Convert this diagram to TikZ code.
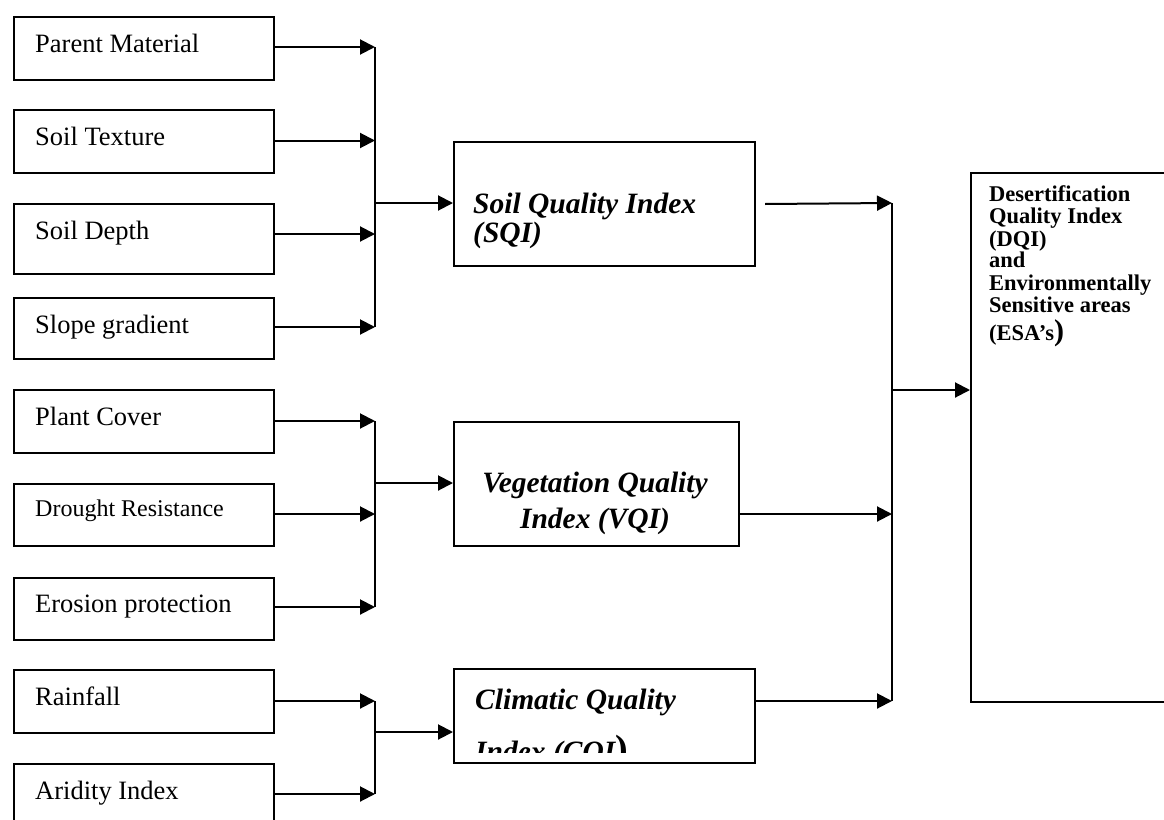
\documentclass[tikz,border=0pt]{standalone}
\usepackage{fontspec}
\setmainfont{Liberation Serif}
\usetikzlibrary{arrows.meta}
\begin{document}
\begin{tikzpicture}[x=1pt,y=-1pt,
  box/.style={draw, line width=2pt, inner sep=0pt, anchor=north west},
  lbox/.style={box, minimum width=260pt, minimum height=#1},
  ltxt/.style={anchor=base west, inner sep=0pt, font=\fontsize{26.5}{30}\selectfont},
  itxt/.style={anchor=base west, inner sep=0pt, font=\fontsize{29.5}{30}\selectfont\bfseries\itshape},
  dtxt/.style={anchor=base west, inner sep=0pt, font=\fontsize{22.5}{22}\selectfont\bfseries},
  arr/.style={-{Triangle[length=15pt,width=15pt]}, line width=2pt},
  bus/.style={line width=2pt}]
\useasboundingbox (0,0) rectangle (1164,819);
\clip (0,0) rectangle (1164,819);
\fill[white] (0,0) rectangle (1164,819);

% left input boxes
\node[lbox=63pt] (pm) at (13,16) {};
\node[lbox=63pt] (st) at (13,109) {};
\node[lbox=70pt] (sd) at (13,203) {};
\node[lbox=61pt] (sg) at (13,297) {};
\node[lbox=63pt] (pc) at (13,389) {};
\node[lbox=62pt] (dr) at (13,483) {};
\node[lbox=62pt] (ep) at (13,577) {};
\node[lbox=63pt] (rf) at (13,669) {};
\node[lbox=90pt] (ai) at (13,763) {};

\node[ltxt] (pmt) at (35,52) {Parent Material};
\node[ltxt] (stt) at (35,145) {Soil Texture};
\node[ltxt] (sdt) at (35,239) {Soil Depth};
\node[ltxt] (sgt) at (35,333) {Slope gradient};
\node[ltxt] (pct) at (35,425) {Plant Cover};
\node[ltxt, font=\fontsize{24}{28}\selectfont] (drt) at (35,516) {Drought Resistance};
\node[ltxt] (ept) at (35,612) {Erosion protection};
\node[ltxt] (rft) at (35,705) {Rainfall};
\node[ltxt] (ait) at (35,799) {Aridity Index};

% index boxes
\node[box, minimum width=301pt, minimum height=124pt] (sqi) at (453,141) {};
\node[box, minimum width=285pt, minimum height=124pt] (vqi) at (453,421) {};
\node[box, minimum width=301pt, minimum height=94pt] (cqi) at (453,668) {};
\node[box, minimum width=240pt, minimum height=529pt] (dqi) at (970,172) {};

\node[itxt] (sqit1) at (473,213) {Soil Quality Index};
\node[itxt] (sqit2) at (473,242) {(SQI)};
\node[itxt, anchor=base] (vqit1) at (595,492) {Vegetation Quality};
\node[itxt, anchor=base] (vqit2) at (595,528) {Index (VQI)};
\node[itxt] (cqit1) at (475,709) {Climatic Quality};
\begin{scope}
  \clip (cqi.west |- 0,752) rectangle (cqi.north east);
  \node[itxt] (cqit2) at (475,761) {Index (CQI{\upshape\fontsize{38}{38}\selectfont)}};
\end{scope}

\node[dtxt] (d1) at (989,201) {Desertification};
\node[dtxt] (d2) at (989,223) {Quality Index};
\node[dtxt] (d3) at (989,246) {(DQI)};
\node[dtxt] (d4) at (989,267) {and};
\node[dtxt] (d5) at (989,290) {Environmentally};
\node[dtxt] (d6) at (989,312) {Sensitive areas};
\node[dtxt] (d7) at (989,340) {(ESA’s{\fontsize{30}{30}\selectfont)}};

% bus coordinates (left)
\coordinate (b1) at (375,47);
\coordinate (b2) at (375,140.5);
\coordinate (b3) at (375,234);
\coordinate (b4) at (375,327);
\coordinate (b5) at (375,421);
\coordinate (b6) at (375,514);
\coordinate (b7) at (375,607);
\coordinate (b8) at (375,701);
\coordinate (b9) at (375,794);
\coordinate (sin) at (375,203);
\coordinate (vin) at (375,483);
\coordinate (cin) at (375,732);

\draw[arr] (pm.east |- b1) -- (b1);
\draw[arr] (st.east |- b2) -- (b2);
\draw[arr] (sd.east |- b3) -- (b3);
\draw[arr] (sg.east |- b4) -- (b4);
\draw[arr] (pc.east |- b5) -- (b5);
\draw[arr] (dr.east |- b6) -- (b6);
\draw[arr] (ep.east |- b7) -- (b7);
\draw[arr] (rf.east |- b8) -- (b8);
\draw[arr] (ai.east |- b9) -- (b9);

\draw[bus] (b1) -- (b4);
\draw[bus] (b5) -- (b7);
\draw[bus] (b8) -- (b9);

\draw[arr] (sin) -- (sqi.west |- sin);
\draw[arr] (vin) -- (vqi.west |- vin);
\draw[arr] (cin) -- (cqi.west |- cin);

% right bus
\coordinate (q1) at (892,203);
\coordinate (q2) at (892,514);
\coordinate (q3) at (892,701);
\coordinate (q0) at (892,390);
\draw[arr] ([xshift=9pt]sqi.east) -- (q1);
\draw[arr] (vqi.east |- q2) -- (q2);
\draw[arr] (cqi.east |- q3) -- (q3);
\draw[bus] (q1) -- (q3);
\draw[arr] (q0) -- (dqi.west |- q0);
\end{tikzpicture}
\end{document}
